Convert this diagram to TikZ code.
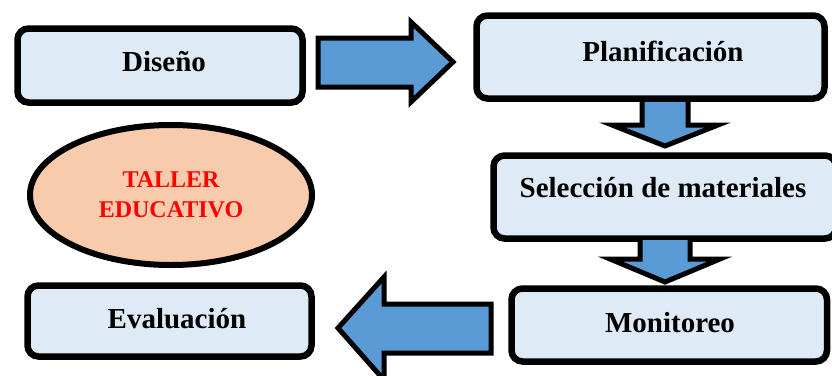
\documentclass[tikz,border=0pt]{standalone}
\usepackage{fontspec}
\setmainfont{Liberation Serif}
\begin{document}
\begin{tikzpicture}[x=1pt,y=-1pt,
  stepbox/.style={draw=black,line width=6.5pt,rounded corners=11pt,fill=boxblue},
  lbl/.style={font=\fontsize{29}{31}\selectfont\bfseries,text=black,inner sep=0pt},
  bigarrow/.style={draw=black,line width=5pt,fill=arrowblue,line join=miter}]
\definecolor{boxblue}{HTML}{DEEAF6}
\definecolor{arrowblue}{HTML}{5B9BD5}
\definecolor{peach}{HTML}{F8CBAD}
\useasboundingbox (0,0) rectangle (832,375);

% boxes
\draw[stepbox] (17.5,28.5) rectangle (302.5,102.5);
\node[lbl] (dis) at (164,62) {Diseño};
\draw[stepbox] (476.5,15.5) rectangle (824.5,98.5);
\node[lbl] (pla) at (663,51) {Planificación};
\draw[stepbox] (493.5,155.5) rectangle (836,238.5);
\node[lbl] (sel) at (663,188) {Selección de materiales};
\draw[stepbox] (511.5,288.5) rectangle (827,361.5);
\node[lbl] (mon) at (670,323) {Monitoreo};
\draw[stepbox] (27.5,285.5) rectangle (311.5,356.5);
\node[lbl] (eva) at (177,319) {Evaluación};

% ellipse
\draw[black,line width=6pt,fill=peach] (171,195) ellipse [x radius=141,y radius=70];
\node[lbl,text=red,align=center,font=\fontsize{24}{30}\selectfont\bfseries] (tal) at (171,195) {TALLER\\EDUCATIVO};

% arrows
\draw[bigarrow] (318,38) -- (411,38) -- (411,22) -- (453,62) -- (411,102) -- (411,87) -- (318,87) -- cycle;
\draw[bigarrow] (642,102) -- (642,125) -- (612,125) -- (665,146) -- (718,125) -- (688,125) -- (688,102);
\draw[bigarrow] (640,240) -- (640,259) -- (610,259) -- (665,282) -- (720,259) -- (690,259) -- (690,240);
\draw[bigarrow] (491,304) -- (384,304) -- (384,277) -- (338,328) -- (384,380) -- (384,353) -- (491,353) -- cycle;
\end{tikzpicture}
\end{document}
